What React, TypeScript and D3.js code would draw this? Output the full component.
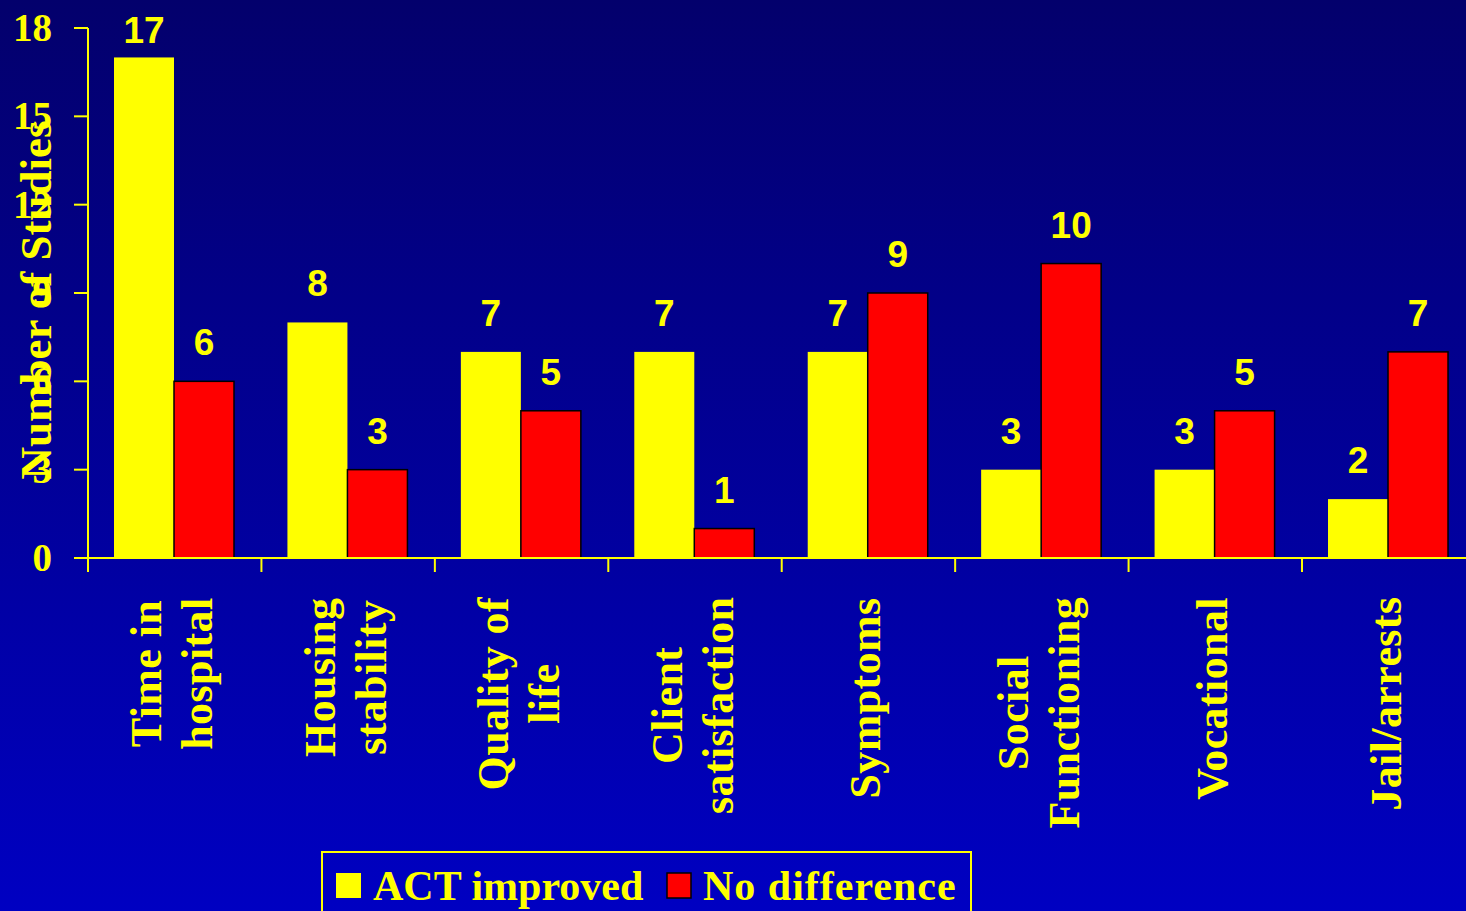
import React, { useMemo } from "react";
import * as d3 from "d3";

// Outcome domains (multi-line labels) and study counts per series
const categories: string[][] = [
  ["Time in", "hospital"],
  ["Housing", "stability"],
  ["Quality of", "life"],
  ["Client", "satisfaction"],
  ["Symptoms"],
  ["Social", "Functioning"],
  ["Vocational"],
  ["Jail/arrests"],
];
const actImproved: number[] = [17, 8, 7, 7, 7, 3, 3, 2];
const noDifference: number[] = [6, 3, 5, 1, 9, 10, 5, 7];
const yTicks: number[] = [0, 3, 6, 9, 12, 15, 18];
const seriesNames: string[] = ["ACT improved", "No difference"];
const seriesColors: string[] = ["#FFFF00", "#FF0000"];

const W = 1466;
const H = 911;
const YELLOW = "#FFFF00";
const SERIF = "'Liberation Serif', 'Times New Roman', serif";
const SANS = "'Liberation Sans', Arial, sans-serif";

function measure(text: string, font: string): number {
  const c = document.createElement("canvas").getContext("2d");
  if (!c) return text.length * 20;
  c.font = font;
  return c.measureText(text).width;
}

export default function App() {
  const left = 88;
  const bandW = 173.43;
  const x0 = d3
    .scaleBand<number>()
    .domain(categories.map((_, i) => i))
    .range([left, left + bandW * categories.length])
    .padding(0);
  const x1 = d3.scaleBand<number>().domain([0, 1]).range([26, 146]).padding(0);
  const y = d3.scaleLinear().domain([0, 18]).range([558, 28]);

  const catFont = `bold 44px ${SERIF}`;
  const catLayout = useMemo(
    () =>
      categories.map((lines) => {
        const maxW = Math.max(...lines.map((l) => measure(l, catFont)));
        return { lines, maxW };
      }),
    []
  );

  const series = [actImproved, noDifference];

  return (
    <svg
      width={W}
      height={H}
      style={{ position: "absolute", left: 0, top: 0, display: "block" }}
    >
      <defs>
        <linearGradient id="bg" x1="0" y1="0" x2="0" y2="1">
          <stop offset="0" stopColor="#03006C" />
          <stop offset="1" stopColor="#0000C2" />
        </linearGradient>
      </defs>
      <rect x={0} y={0} width={W} height={H} fill="url(#bg)" />

      {/* bars */}
      {series.map((vals, si) =>
        vals.map((v, ci) => {
          const bx = (x0(ci) as number) + (x1(si) as number);
          return (
            <rect
              key={`b-${si}-${ci}`}
              x={bx}
              y={y(v)}
              width={x1.bandwidth()}
              height={y(0) - y(v)}
              fill={seriesColors[si]}
              stroke={si === 1 ? "#000000" : "none"}
              strokeWidth={1.5}
            />
          );
        })
      )}

      {/* value labels */}
      {series.map((vals, si) =>
        vals.map((v, ci) => {
          const cx =
            (x0(ci) as number) + (x1(si) as number) + x1.bandwidth() / 2;
          return (
            <text
              key={`v-${si}-${ci}`}
              x={cx}
              y={Math.max(y(v) - 26, 43)}
              textAnchor="middle"
              fill={YELLOW}
              fontFamily={SANS}
              fontWeight="bold"
              fontSize={37}
            >
              {v}
            </text>
          );
        })
      )}

      {/* y axis */}
      <line x1={left} x2={left} y1={y(18)} y2={572} stroke={YELLOW} strokeWidth={2} />
      {yTicks.map((t) => (
        <g key={`yt-${t}`}>
          <line x1={74} x2={left} y1={y(t)} y2={y(t)} stroke={YELLOW} strokeWidth={2} />
          <text
            x={52}
            y={y(t) + 13}
            textAnchor="end"
            fill={YELLOW}
            fontFamily={SERIF}
            fontWeight="bold"
            fontSize={39}
          >
            {t}
          </text>
        </g>
      ))}

      {/* x axis */}
      <line x1={left} x2={W} y1={y(0)} y2={y(0)} stroke={YELLOW} strokeWidth={2} />
      {categories.map((_, i) => (
        <line
          key={`xt-${i}`}
          x1={x0(i) as number}
          x2={x0(i) as number}
          y1={y(0)}
          y2={572}
          stroke={YELLOW}
          strokeWidth={2}
        />
      ))}

      {/* category labels, rotated */}
      {catLayout.map(({ lines, maxW }, i) => {
        const cx = (x0(i) as number) + x0.bandwidth() / 2;
        const cy = 597 + maxW / 2 + 2;
        return (
          <g key={`cl-${i}`}>
            {lines.map((ln, li) => {
              const bx = cx + 12 + (li - (lines.length - 1) / 2) * 51;
              return (
                <text
                  key={li}
                  transform={`translate(${bx},${cy}) rotate(-90)`}
                  textAnchor="middle"
                  fill={YELLOW}
                  fontFamily={SERIF}
                  fontWeight="bold"
                  fontSize={44}
                  letterSpacing={0.4}
                >
                  {ln}
                </text>
              );
            })}
          </g>
        );
      })}

      {/* y axis title */}
      <text
        transform={`translate(51,300) rotate(-90)`}
        textAnchor="middle"
        fill={YELLOW}
        fontFamily={SERIF}
        fontWeight="bold"
        fontSize={45}
      >
        Number of Studies
      </text>

      {/* legend */}
      <rect x={322} y={852} width={649} height={80} fill="none" stroke={YELLOW} strokeWidth={2} />
      <rect x={336} y={873} width={25} height={25} fill={seriesColors[0]} />
      <text x={373} y={900} fill={YELLOW} fontFamily={SERIF} fontWeight="bold" fontSize={42}>
        {seriesNames[0]}
      </text>
      <rect x={667} y={873} width={24} height={25} fill={seriesColors[1]} stroke="#000" strokeWidth={1.5} />
      <text
        x={703}
        y={900}
        fill={YELLOW}
        fontFamily={SERIF}
        fontWeight="bold"
        fontSize={42}
        letterSpacing={1}
      >
        {seriesNames[1]}
      </text>
    </svg>
  );
}
